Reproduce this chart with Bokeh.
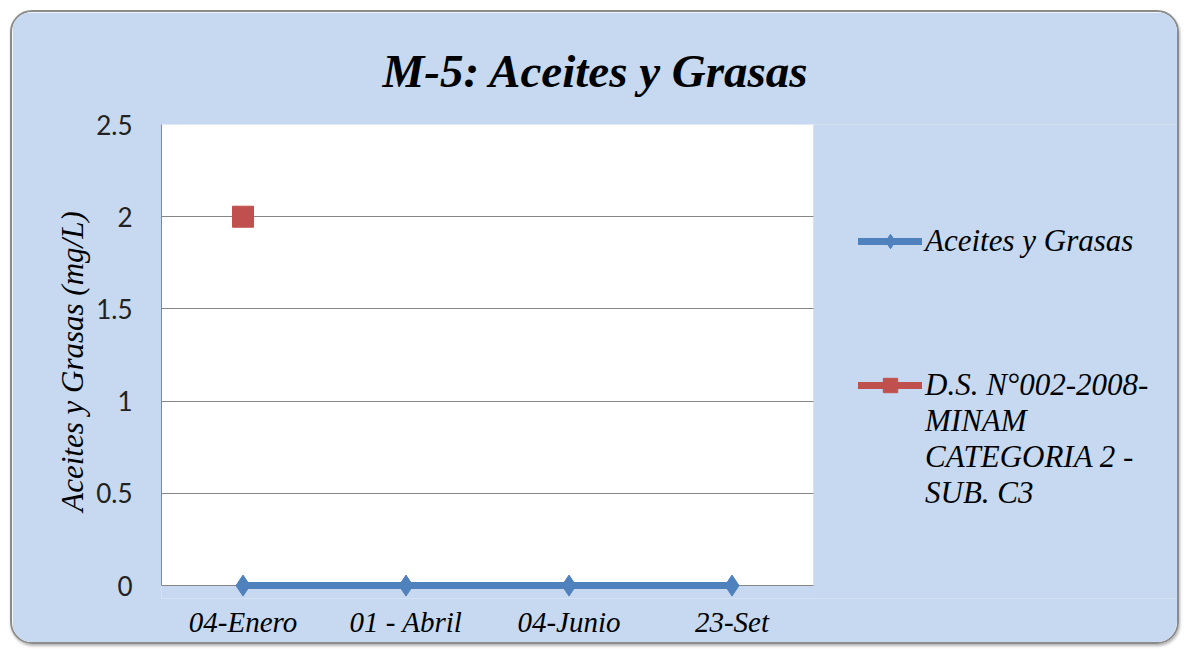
import math

from bokeh.embed import file_html
from bokeh.models import (BoxAnnotation, FixedTicker, Legend, LegendItem, Range1d)
from bokeh.plotting import figure
from bokeh.resources import INLINE

# Sampling dates (category axis)
fechas = ["04-Enero", "01 - Abril", "04-Junio", "23-Set"]

# Measured oil & grease concentration (mg/L)
aceites_grasas = [0, 0, 0, 0]

# Regulatory limit D.S. N°002-2008-MINAM, Cat. 2 Sub. C3 (only reported for the first date)
limite_ds = [2, math.nan, math.nan, math.nan]

# Y axis ticks
y_ticks = [0, 0.5, 1, 1.5, 2, 2.5]

titulo = "M-5: Aceites y Grasas"
eje_y = "Aceites y Grasas (mg/L)"
serie_1 = "Aceites y Grasas"
serie_2_lineas = ["D.S. N°002-2008-", "MINAM", "CATEGORIA 2 -", "SUB. C3"]

AZUL = "#4F81BD"
ROJO = "#C0504D"
FONDO = "#C6D9F0"
GRIS = "#868686"
SERIF = "Liberation Serif"

# Each date occupies one unit slot centred on i + 0.5
n = len(fechas)
x_pos = [i + 0.5 for i in range(n)]
y_max = y_ticks[-1]

# Frame geometry: the plotting slots take 652 px of a 1020 px wide frame,
# the remaining strip on the right holds the legend.
FRAME_W, SLOTS_W = 1020, 652

p = figure(
    x_range=Range1d(0, n * FRAME_W / SLOTS_W),
    y_range=Range1d(-0.07, y_max),
    width=1169, height=634,
    margin=(10, 0, 0, 10),
    min_border_left=149, min_border_right=0,
    min_border_top=112, min_border_bottom=48,
    background_fill_color=FONDO, border_fill_color=FONDO,
    outline_line_color=None,
    output_backend="svg", toolbar_location=None,
    title=titulo,
)
p.styles = {
    "border": "2px solid #8C8C8C",
    "border-radius": "22px",
    "overflow": "hidden",
    "box-shadow": "1px 2px 3px rgba(0,0,0,0.3)",
}

# Title
p.title.align = "left"
p.title.offset = 221
p.title.standoff = 56
p.title.text_font = SERIF
p.title.text_font_style = "bold italic"
p.title.text_font_size = "47px"
p.title.text_color = "black"

# White plot area over the date slots, between 0 and the top tick
p.add_layout(BoxAnnotation(left=0, right=n, bottom=0, top=y_max,
                           fill_color="white", fill_alpha=1,
                           line_color=None, level="image"))
# Background strip to the right of the plot area (hides the grid there)
p.add_layout(BoxAnnotation(left=n, fill_color=FONDO, fill_alpha=1,
                           line_color=None, level="underlay"))

# Y axis
p.yaxis.ticker = FixedTicker(ticks=y_ticks)
p.yaxis.bounds = (0, y_max)
p.yaxis.major_label_overrides = {t: f"{t:g}" for t in y_ticks}
p.yaxis.axis_line_color = GRIS
p.yaxis.major_tick_line_color = None
p.yaxis.minor_tick_line_color = None
p.yaxis.major_label_text_font = "Lato"
p.yaxis.major_label_text_font_size = "26px"
p.yaxis.major_label_text_color = "#222222"
p.yaxis.major_label_standoff = 23
p.yaxis.axis_label = eje_y
p.yaxis.axis_label_text_font = SERIF
p.yaxis.axis_label_text_font_style = "italic"
p.yaxis.axis_label_text_font_size = "31px"
p.yaxis.axis_label_text_color = "black"
p.yaxis.axis_label_standoff = 3

p.ygrid.grid_line_color = GRIS
p.xgrid.grid_line_color = None

# X axis: one label per date
p.xaxis.ticker = FixedTicker(ticks=x_pos)
p.xaxis.major_label_overrides = dict(zip(x_pos, fechas))
p.xaxis.bounds = (0, n)
p.xaxis.axis_line_color = None
p.xaxis.major_tick_line_color = None
p.xaxis.minor_tick_line_color = None
p.xaxis.major_label_text_font = SERIF
p.xaxis.major_label_text_font_style = "italic"
p.xaxis.major_label_text_font_size = "29px"
p.xaxis.major_label_text_color = "black"
p.xaxis.major_label_standoff = 1

# Series
l1 = p.line(x_pos, aceites_grasas, line_width=7, color=AZUL, line_cap="round")
m1 = p.scatter(x_pos, aceites_grasas, marker="diamond", size=21, color=AZUL)
l2 = p.line(x_pos, limite_ds, line_width=7, color=ROJO, line_cap="round")
m2 = p.scatter(x_pos, limite_ds, marker="square", size=21, color=ROJO)

# Empty renderer used for the legend's spacer / continuation rows
vacio = p.line(x=[], y=[], line_alpha=0)

items = [LegendItem(label=serie_1, renderers=[l1, m1])]
items += [LegendItem(label=" ", renderers=[vacio]) for _ in range(3)]
items += [LegendItem(label=serie_2_lineas[0], renderers=[l2, m2])]
items += [LegendItem(label=t, renderers=[vacio]) for t in serie_2_lineas[1:]]

legend = Legend(
    items=items,
    location=(697, 87),
    orientation="vertical",
    padding=0, margin=0, spacing=0,
    glyph_width=64, glyph_height=36, label_height=36,
    label_standoff=3,
    label_text_font=SERIF, label_text_font_style="italic",
    label_text_font_size="31px", label_text_color="black",
    background_fill_alpha=0, border_line_color=None,
)
p.add_layout(legend)

open("out.html", "w").write(file_html(p, INLINE))
